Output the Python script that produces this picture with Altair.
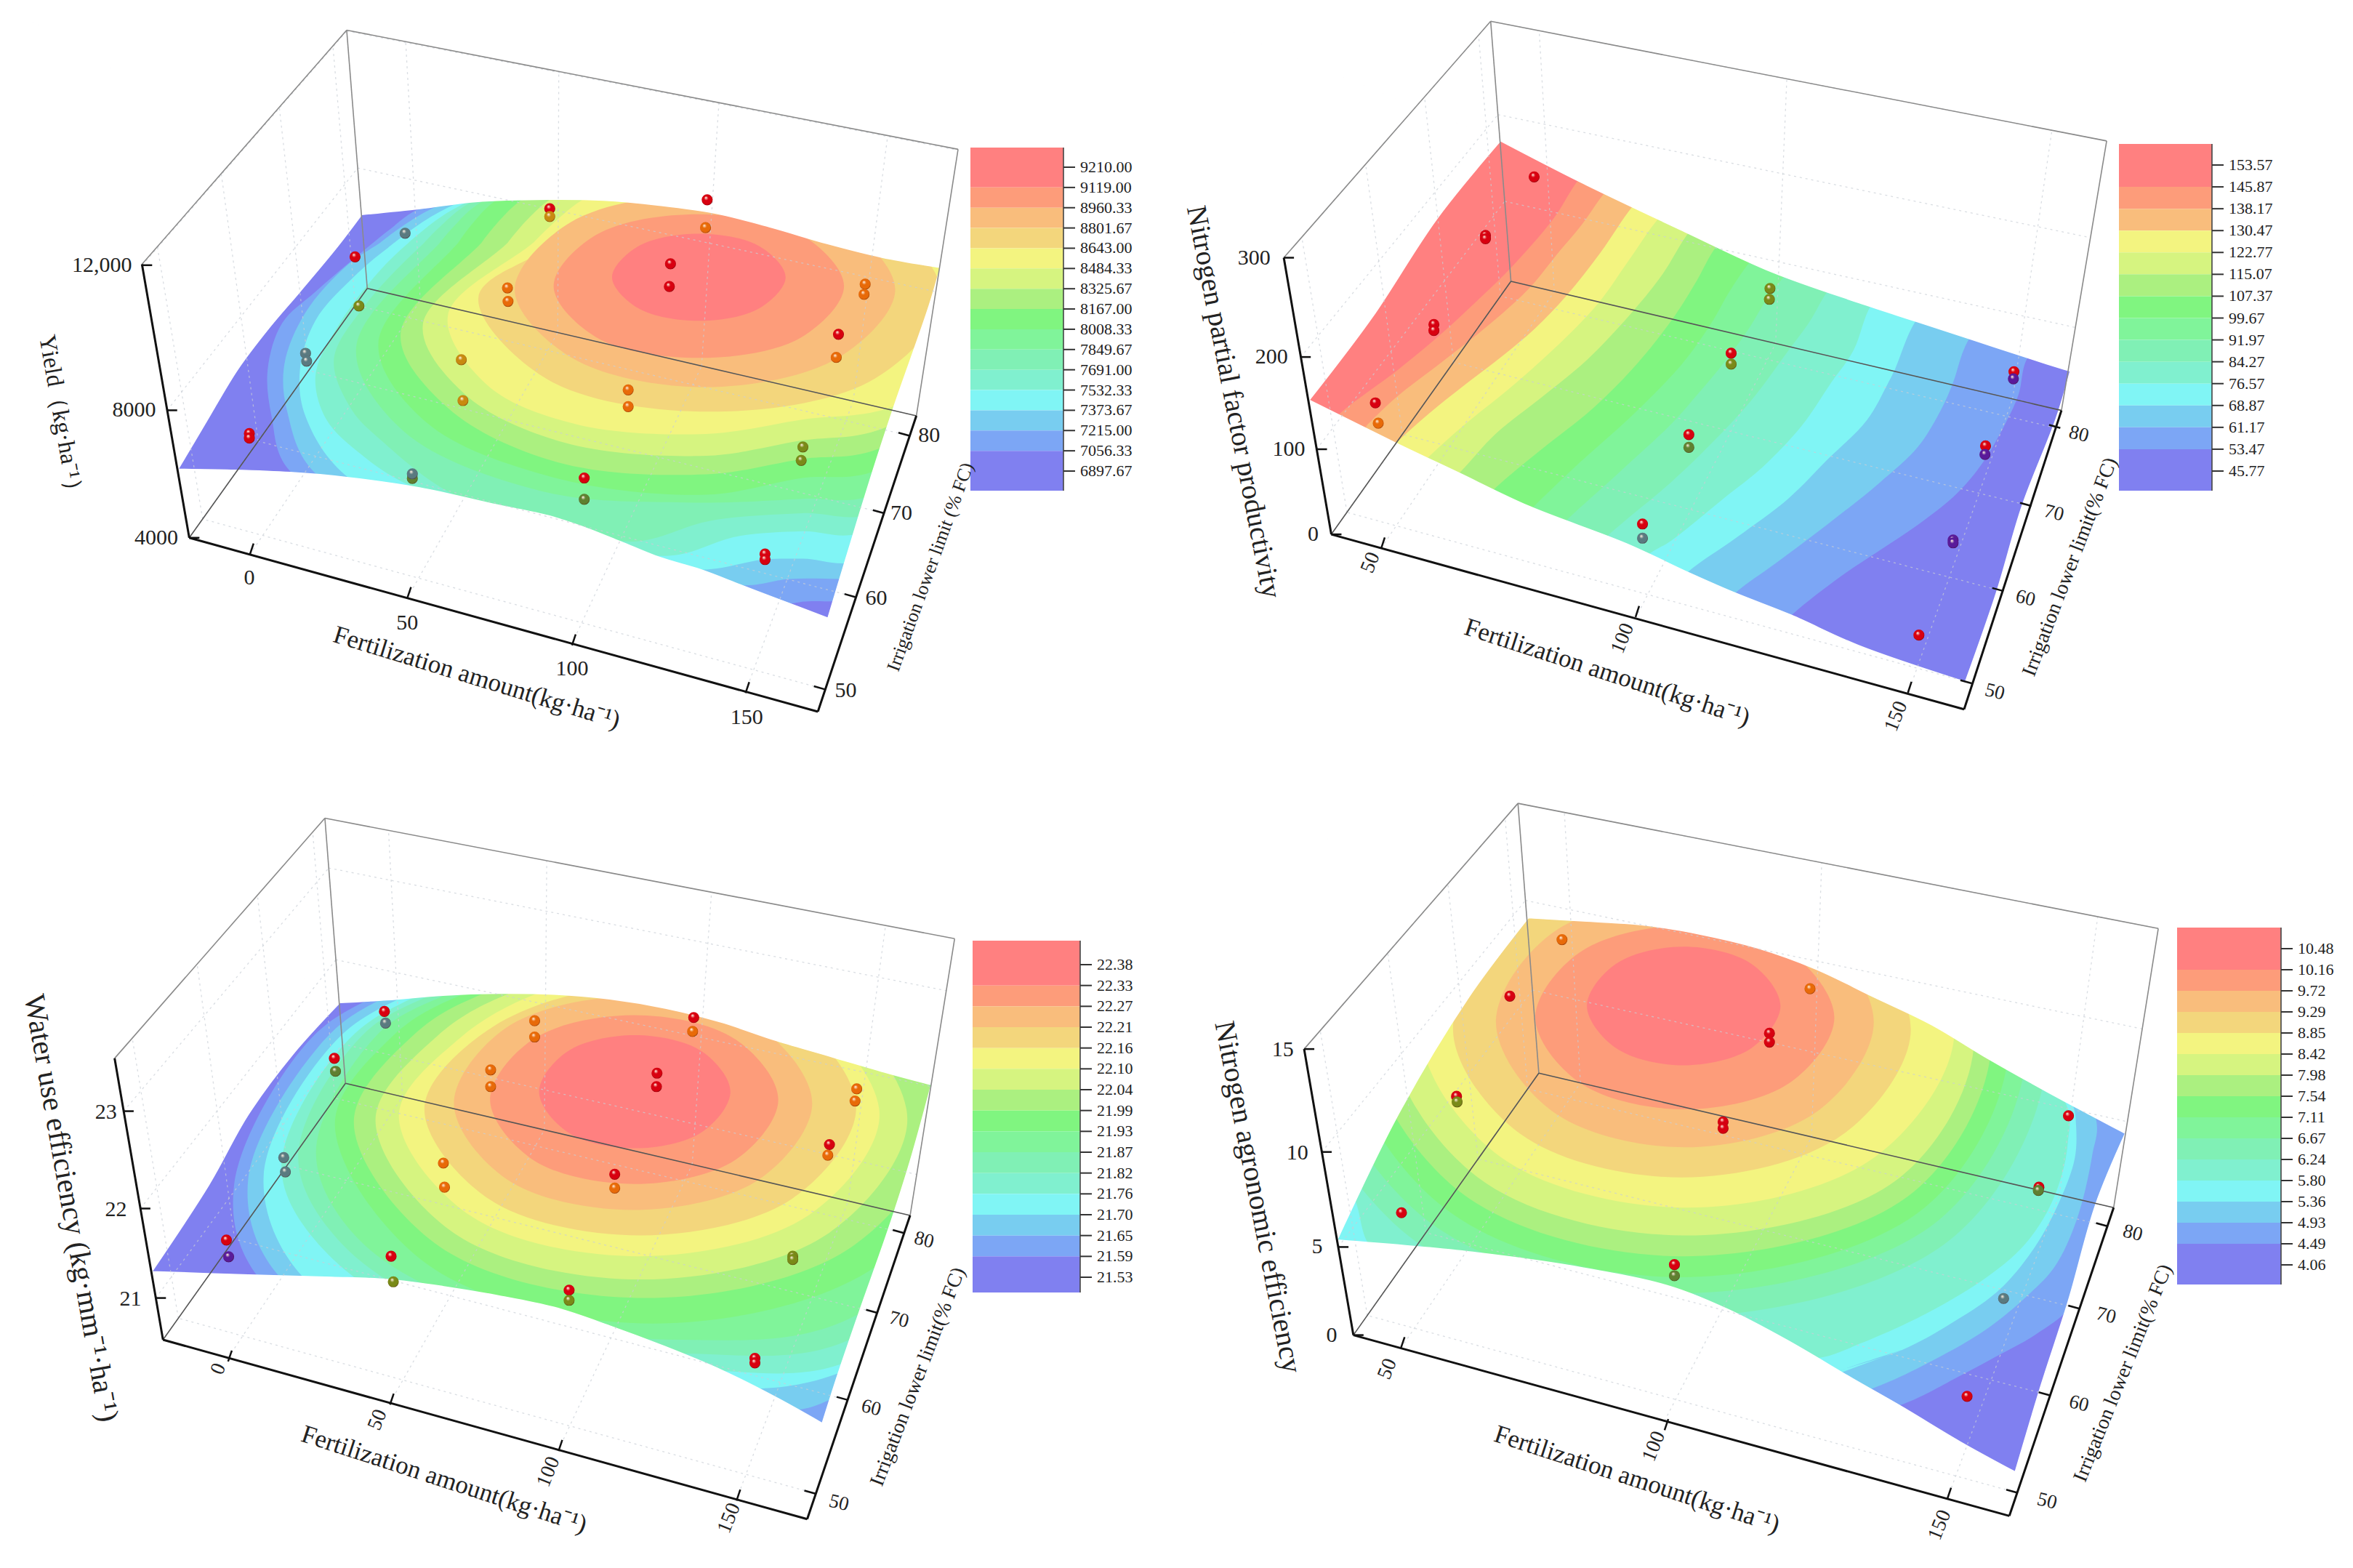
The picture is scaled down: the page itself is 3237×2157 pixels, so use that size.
import altair as alt
import pandas as pd

alt.data_transformers.disable_max_rows()

FONT = "Liberation Serif"
PALETTE = ["#FF8080", "#FD9C7A", "#F9BD7C", "#F3D67C", "#F3F480", "#D6F480", "#ABF080", "#80F580",
           "#80F49A", "#80F0B5", "#80F0CF", "#80F5F5", "#78CDF0", "#7CA6F5", "#8080F0"]
SPHERES = {"r": "#d80010", "o": "#e86a08", "y": "#c88a10", "l": "#7a8a18", "g": "#5f8030", "s": "#5a7a80", "p": "#5a1a9a"}

# crop windows used when reading: origin x, origin y, width, height
P1_WIN = (180, 0, 1200, 1000)
P2_WIN = (1680, 0, 1250, 1020)
P3_WIN = (150, 1100, 1200, 1000)
P4_WIN = (1700, 1100, 1250, 1000)

# ---------- surface outlines ----------
P1_EDGE = [(85,1012),(136,909),(192,797),(248,708),(304,629),(370,534),(415,463),(520,450),(620,435),(750,430),(850,432),(950,443),(1050,460),(1150,490),(1250,525),(1350,555),(1455,577),
           (1435,659),(1370,883),(1330,1030),(1286,1202),(1253,1333),(1165,1293),(1099,1263),(1025,1229),(950,1202),(880,1168),(810,1135),(750,1112),(659,1089),(519,1052),(391,1030),(286,1019),(180,1014)]
P2_EDGE = [(152,846),(260,672),(372,463),(482,298),(620,385),(800,490),(950,575),(1100,640),(1200,680),(1300,720),(1400,760),(1465,785),
           (1441,884),(1382,1070),(1338,1252),(1284,1442),(1100,1365),(984,1301),(887,1254),(805,1210),(700,1150),(530,1070),(410,1000),(300,936)]
P3_EDGE = [(77,1018),(180,830),(250,680),(330,550),(415,438),(500,432),(600,422),(700,418),(800,420),(900,430),(1000,450),(1100,480),(1200,520),(1300,555),(1400,590),(1478,615),
           (1440,780),(1400,930),(1350,1100),(1310,1240),(1282,1345),(1200,1290),(1100,1230),(1000,1180),(900,1135),(800,1095),(700,1070),(600,1050),(500,1035),(400,1030),(250,1025)]
P4_EDGE = [(175,950),(280,680),(400,430),(505,255),(600,262),(700,270),(800,290),(900,320),(1000,365),(1100,425),(1200,485),(1300,560),(1400,630),(1535,720),
           (1484,873),(1437,1080),(1390,1262),(1345,1450),(1250,1385),(1150,1310),(1066,1250),(950,1165),(850,1100),(750,1050),(600,1010),(400,975)]
P1_CORNERS = [(85,1012),(415,463),(1455,577),(1253,1333)]
P2_CORNERS = [(152,846),(482,298),(1465,785),(1284,1442)]
P3_CORNERS = [(77,1018),(415,438),(1478,615),(1282,1345)]
P4_CORNERS = [(175,950),(505,255),(1535,720),(1345,1450)]

# ---------- contour loops, outermost band boundary last (index = band above that boundary) ----------
FAR = [(1700,700),(1500,350),(1100,250)]
P1_LOOPS = [
 [(865,598),(911,532),(1021,504),(1131,532),(1177,598),(1131,664),(1021,692),(911,664)],
 [(760,617),(836,507),(1021,462),(1206,507),(1282,617),(1206,727),(1021,772),(836,727)],
 [(690,625),(790,480),(1032,420),(1274,480),(1374,625),(1274,770),(1032,835),(790,770)],
 [(625,640),(784,523),(1042,390),(1337,463),(1459,640),(1337,817),(1042,888),(747,817)],
 [(820,425),(724,523),(570,680),(640,830),(800,915),(1034,936),(1207,905),(1370,877),(1600,700),(1500,400),(1100,300)],
 [(760,425),(678,523),(525,700),(600,850),(780,955),(1034,983),(1207,950),(1350,925),(1650,700),(1500,350),(1100,280)],
 [(710,425),(631,523),(485,720),(570,880),(770,998),(1034,1023),(1207,990),(1340,970)] + FAR,
 [(665,425),(589,523),(445,740),(530,910),(760,1030),(1034,1067),(1207,1031),(1340,1015)] + FAR,
 [(640,428),(556,523),(405,750),(490,930),(740,1060),(997,1084),(1207,1076),(1340,1065)] + FAR,
 [(620,430),(528,523),(420,660),(365,775),(395,880),(450,950),(579,1066),(740,1125),(903,1168),(1043,1123),(1207,1107),(1340,1105)] + FAR,
 [(598,440),(500,523),(435,601),(370,708),(332,809),(351,904),(416,982),(496,1044),(720,1140),(964,1199),(1090,1157),(1207,1146),(1320,1146)] + FAR,
 [(575,445),(463,534),(402,596),(332,691),(304,797),(314,898),(391,1030),(700,1180),(1025,1229),(1137,1207),(1207,1205),(1320,1205)] + FAR,
 [(547,447),(449,523),(388,573),(314,674),(276,786),(281,887),(332,1021),(700,1200),(1099,1263),(1183,1249),(1277,1249),(1350,1250)] + FAR,
 [(519,450),(472,489),(332,629),(272,697),(246,797),(253,898),(286,1016),(700,1250),(1165,1303),(1216,1297),(1263,1297),(1350,1297)] + FAR,
]
P2_CONTOURS = [
 [(204,875),(305,782),(376,710),(439,639),(497,570),(573,463),(618,378)],
 [(253,897),(305,837),(372,774),(439,710),(497,650),(538,601),(578,540),(623,474),(663,406)],
 [(305,933),(358,875),(417,817),(484,754),(542,694),(596,625),(654,535),(712,433)],
 [(358,966),(421,897),(493,826),(574,738),(650,642),(703,551),(755,461)],
 [(412,999),(475,916),(551,842),(632,760),(712,656),(762,579),(809,488)],
 [(473,1032),(551,952),(641,864),(717,770),(782,669),(820,595),(855,520)],
 [(538,1073),(618,979),(708,880),(795,770),(845,685),(878,615),(915,550)],
 [(596,1100),(685,1001),(778,895),(822,834),(867,768),(912,692),(943,630),(975,580)],
 [(665,1135),(778,1018),(845,939),(912,851),(979,741),(1015,681),(1050,610)],
 [(735,1175),(778,1142),(867,1054),(934,988),(1002,900),(1051,812),(1091,741),(1123,642)],
 [(805,1210),(890,1136),(979,1054),(1046,972),(1114,889),(1150,812),(1163,780),(1199,678)],
 [(887,1254),(957,1191),(1046,1109),(1136,1021),(1203,944),(1244,862),(1262,812),(1291,716)],
 [(984,1301),(1069,1219),(1136,1164),(1203,1109),(1270,1043),(1315,977),(1356,889),(1376,834),(1391,758)],
]
P2_LOOPS = [[(c[0][0]-60,c[0][1]+75)] + c + [(c[-1][0]+60,c[-1][1]-75),(200,-100),(-50,1450)] for c in P2_CONTOURS]
FAR3 = [(1700,700),(1500,350),(1000,250)]
P3_LOOPS = [
 [(773,630),(823,544),(945,508),(1067,544),(1117,630),(1067,716),(945,752),(823,716)],
 [(685,647),(761,518),(944,465),(1127,518),(1203,647),(1127,776),(944,829),(761,776)],
 [(620,655),(714,492),(942,425),(1170,492),(1264,655),(1170,818),(942,885),(714,818)],
 [(567,665),(690,490),(955,400),(1229,470),(1343,665),(1229,860),(955,940),(681,860)],
 [(521,680),(630,515),(770,418),(953,370),(1258,464),(1385,680),(1258,896),(953,985),(648,896)],
 [(479,690),(590,510),(720,418),(957,350),(1295,446),(1435,690),(1295,934),(957,1035),(619,934)],
 [(440,695),(550,505),(680,415),(965,330),(1336,426),(1490,695),(1336,964),(965,1075),(594,964)],
 [(406,700),(510,510),(640,418),(978,310),(1382,396),(1550,700),(1382,1004),(978,1130),(574,1004)],
 [(610,418),(480,510),(372,760),(450,950),(700,1110),(1030,1165),(1330,1120)] + FAR3,
 [(585,418),(450,515),(340,770),(420,960),(680,1140),(1040,1195),(1340,1160)] + FAR3,
 [(560,420),(425,525),(310,790),(385,970),(640,1160),(1060,1230),(1350,1200)] + FAR3,
 [(530,425),(400,530),(278,810),(345,1025),(600,1180),(1000,1255),(1140,1272),(1305,1240),(1650,1000),(1700,500),(1000,250)],
 [(490,430),(375,535),(250,820),(300,1020),(600,1220),(1100,1320),(1225,1318),(1285,1300),(1650,1000),(1700,500),(1000,250)],
 [(460,435),(345,540),(225,830),(262,1020),(600,1300),(1300,1420),(1650,1000),(1700,500),(1000,250)],
]
P4_OUT_UP = [(1300,300),(800,-150),(200,100),(50,700),(150,1050)]
P4_LOOPS = [
 [(606,445),(655,355),(773,317),(891,355),(940,445),(891,535),(773,573),(655,535)],
 [(517,470),(593,330),(775,272),(957,330),(1033,470),(957,610),(775,668),(593,610)],
 [(449,480),(545,289),(775,210),(1005,289),(1101,480),(1005,671),(775,750),(545,671)],
 [(375,495),(491,269),(770,175),(1049,269),(1165,495),(1049,721),(770,815),(491,721)],
 [(320,500),(455,231),(780,120),(1105,231),(1240,500),(1105,769),(780,880),(455,769)],
 [(270,510),(417,206),(772,80),(1127,206),(1274,510),(1147,814),(772,940),(417,814)],
 [(230,510),(387,174),(767,35),(1147,174),(1304,510),(1170,846),(767,985),(387,846)],
 [(190,515),(358,151),(762,0),(1166,151),(1334,515),(1190,879),(762,1030),(358,879)],
 [(150,520),(328,135),(757,-25),(1186,135),(1364,520),(1215,905),(757,1065),(328,905)],
 [(110,525),(299,108),(755,-65),(1211,108),(1400,525),(1240,942),(755,1115),(299,942)],
 [(1000,1205),(1066,1179),(1191,1109),(1296,1030),(1359,963),(1400,890),(1425,812),(1436,739),(1434,660),(1200,300),(800,-100),(300,100),(120,600),(205,860),(240,975),(500,1090),(800,1170)],
 [(1035,1235),(1150,1187),(1233,1131),(1317,1058),(1380,963),(1421,868),(1448,773),(1450,700),(1445,660)] + P4_OUT_UP + [(500,1250),(800,1350)],
 [(1097,1271),(1204,1209),(1296,1142),(1367,1069),(1413,1008),(1451,907),(1478,767),(1484,686)] + P4_OUT_UP + [(500,1270),(800,1380)],
 [(1145,1307),(1233,1254),(1317,1198),(1380,1154),(1440,1095),(1495,960),(1530,850),(1545,722)] + P4_OUT_UP + [(500,1300),(850,1400)],
]

# ---------- observations ----------
P1_PTS = [(213,935,"r"),(213,945,"r"),(403,554,"r"),(410,660,"l"),(493,503,"s"),(314,762,"s"),(316,779,"s"),(506,1022,"s"),(506,1032,"g"),
          (753,450,"r"),(753,467,"y"),(677,621,"o"),(678,650,"o"),(594,776,"y"),(597,864,"y"),(815,1031,"r"),(815,1077,"g"),(1036,431,"r"),(1033,491,"o"),
          (970,569,"r"),(968,618,"r"),(894,841,"o"),(894,877,"o"),(1140,1195,"r"),(1140,1207,"r"),(1320,613,"o"),(1318,635,"o"),(1272,721,"r"),(1268,771,"o"),(1208,964,"l"),(1205,993,"l")]
P2_PTS = [(540,374,"r"),(456,498,"r"),(456,505,"r"),(367,686,"r"),(367,699,"r"),(266,852,"r"),(271,895,"o"),(947,610,"l"),(946,633,"l"),(880,747,"r"),(880,770,"l"),
          (807,919,"r"),(807,946,"g"),(727,1108,"r"),(727,1138,"s"),(1368,786,"r"),(1367,801,"p"),(1319,943,"r"),(1318,961,"p"),(1263,1142,"p"),(1263,1148,"p"),(1204,1343,"r")]
P3_PTS = [(495,457,"r"),(497,482,"s"),(405,558,"r"),(407,586,"g"),(314,772,"s"),(317,803,"s"),(211,950,"r"),(215,986,"p"),(507,985,"r"),(511,1040,"l"),
          (765,477,"o"),(765,512,"o"),(686,583,"o"),(686,619,"o"),(601,784,"o"),(603,836,"o"),(827,1058,"r"),(827,1080,"l"),(1051,470,"r"),(1049,500,"o"),
          (985,590,"r"),(984,619,"r"),(909,808,"r"),(909,838,"o"),(1161,1205,"r"),(1161,1215,"r"),(1344,624,"o"),(1341,650,"o"),(1295,744,"r"),(1292,767,"o"),(1229,985,"l"),(1229,992,"l")]
P4_PTS = [(563,302,"o"),(473,424,"r"),(381,640,"r"),(382,652,"l"),(286,891,"r"),(991,408,"o"),(921,504,"r"),(921,523,"r"),(841,695,"r"),(841,709,"r"),
          (757,1003,"r"),(757,1027,"g"),(1437,682,"r"),(1386,836,"r"),(1385,843,"g"),(1325,1076,"s"),(1262,1287,"r")]

# ---------- box corners: back-top, right-top, left-top, floor-back, floor-left, front, floor-right ----------
P1_BOX = dict(tb=(388,65), tr=(1487,322), lt=(20,570), bl=(425,622), fl=(105,1160), fr=(1235,1535), br=(1412,897))
P2_BOX = dict(tb=(465,45), tr=(1528,298), lt=(108,545), bl=(500,595), fl=(190,1130), fr=(1282,1500), br=(1450,868))
P3_BOX = dict(tb=(388,40), tr=(1520,300), lt=(10,558), bl=(425,612), fl=(97,1165), fr=(1255,1552), br=(1440,897))
P4_BOX = dict(tb=(487,8), tr=(1592,278), lt=(118,538), bl=(523,590), fl=(203,1155), fr=(1335,1545), br=(1515,880))

# ---------- axes: (tick point on axis, label, label x, label y) ----------
P1_ZT = [((20,572),"12,000",2,572),((65,885),"8000",45,885),((105,1160),"4000",85,1160)]
P2_ZT = [((108,545),"300",85,545),((137,755),"200",115,755),((165,950),"100",145,950),((190,1130),"0",168,1130)]
P3_ZT = [((26,672),"23",14,674),((56,882),"22",32,885),((84,1075),"21",58,1077)]
P4_ZT = [((118,538),"15",100,540),((148,760),"10",125,762),((177,965),"5",150,965),((203,1155),"0",175,1155)]
P1_XT = [((214,1196),"0",213,1247),((497,1290),"50",497,1343),((793,1392),"100",793,1443),((1105,1495),"150",1107,1548)]
P2_XT = [((276,1160),"50",258,1190),((715,1305),"100",693,1350),((1185,1465),"150",1165,1515)]
P3_XT = [((214,1212),"0",197,1228),((505,1305),"50",483,1338),((808,1405),"100",790,1450),((1128,1512),"150",1115,1550)]
P4_XT = [((285,1183),"50",262,1228),((740,1360),"100",722,1395),((1228,1508),"150",1215,1565)]
P1_YT = [((1400,940),"80",1435,940),((1354,1107),"70",1385,1107),((1303,1288),"60",1340,1290),((1248,1487),"50",1285,1490)]
P2_YT = [((1448,905),"80",1480,918),((1398,1070),"70",1437,1085),((1350,1250),"60",1388,1265),((1295,1445),"50",1335,1463)]
P3_YT = [((1429,935),"80",1465,950),((1381,1107),"70",1420,1122),((1328,1295),"60",1370,1312),((1270,1497),"50",1312,1517)]
P4_YT = [((1504,920),"80",1548,935),((1456,1098),"70",1502,1113),((1405,1285),"60",1455,1303),((1349,1495),"50",1400,1513)]

X_TITLE = "Fertilization amount(kg·ha⁻¹)"
Y_TITLE_A = "Irrigation lower limit (% FC)"
Y_TITLE_B = "Irrigation lower limit(% FC)"

# titles: text, x, y, angle, size in full-size coordinates of the figure
P1_TITLES = [("Yield（kg·ha⁻¹）",84,576,80,33),(X_TITLE,656,932,17,35),(Y_TITLE_A,1280,780,-70,26)]
P2_TITLES = [("Nitrogen partial factor productivity",1697,553,79,39),(X_TITLE,2211,925,18,35),(Y_TITLE_B,2848,780,-69,28)]
P3_TITLES = [("Water use efficiency (kg·mm⁻¹·ha⁻¹)",97,1662,80,41),(X_TITLE,611,2035,18,35),(Y_TITLE_B,1263,1894,-69,28)]
P4_TITLES = [("Nitrogen agronomic efficiency",1730,1647,79,40),(X_TITLE,2252,2035,18,35),(Y_TITLE_B,2921,1889,-68,28)]

# ---------- colour bars ----------
P1_LABELS = ["9210.00","9119.00","8960.33","8801.67","8643.00","8484.33","8325.67","8167.00","8008.33","7849.67","7691.00","7532.33","7373.67","7215.00","7056.33","6897.67"]
P2_LABELS = ["153.57","145.87","138.17","130.47","122.77","115.07","107.37","99.67","91.97","84.27","76.57","68.87","61.17","53.47","45.77"]
P3_LABELS = ["22.38","22.33","22.27","22.21","22.16","22.10","22.04","21.99","21.93","21.87","21.82","21.76","21.70","21.65","21.59","21.53"]
P4_LABELS = ["10.48","10.16","9.72","9.29","8.85","8.42","7.98","7.54","7.11","6.67","6.24","5.80","5.36","4.93","4.49","4.06"]
# bar left, bar right, bar top, bar bottom, first tick, last tick
P1_BAR = (1335,1463,203,675,230,648)
P2_BAR = (2915,3043,198,675,227,648)
P3_BAR = (1338,1486,1294,1778,1327,1757)
P4_BAR = (2995,3138,1276,1767,1305,1740)
P1_BANDS = list(range(15))
P2_BANDS = [0,1,2,4,5,6,7,8,9,10,11,12,13,14]
P3_BANDS = list(range(15))
P4_BANDS = list(range(15))

# canvas split: every panel owns one rectangle of the figure
P1_AREA = (0,0,1600,1060)
P2_AREA = (1600,0,3240,1060)
P3_AREA = (0,1060,1600,2160)
P4_AREA = (1600,1060,3240,2160)

PANELS = [
 (P1_WIN,P1_EDGE,P1_CORNERS,P1_LOOPS,P1_PTS,P1_BOX,P1_ZT,P1_XT,P1_YT,P1_TITLES,P1_LABELS,P1_BAR,P1_BANDS,P1_AREA,False),
 (P2_WIN,P2_EDGE,P2_CORNERS,P2_LOOPS,P2_PTS,P2_BOX,P2_ZT,P2_XT,P2_YT,P2_TITLES,P2_LABELS,P2_BAR,P2_BANDS,P2_AREA,True),
 (P3_WIN,P3_EDGE,P3_CORNERS,P3_LOOPS,P3_PTS,P3_BOX,P3_ZT,P3_XT,P3_YT,P3_TITLES,P3_LABELS,P3_BAR,P3_BANDS,P3_AREA,True),
 (P4_WIN,P4_EDGE,P4_CORNERS,P4_LOOPS,P4_PTS,P4_BOX,P4_ZT,P4_XT,P4_YT,P4_TITLES,P4_LABELS,P4_BAR,P4_BANDS,P4_AREA,True),
]

W, H = 3221, 2141
bands, mask, rules, grid, pts, texts_c, texts_r, texts_l, bars = [], [], [], [], [], [], [], [], []

def lerp(a, b, t):
    return (a[0]+(b[0]-a[0])*t, a[1]+(b[1]-a[1])*t)

def unit(a, c, n):
    dx, dy = c[0]-a[0], c[1]-a[1]
    d = (dx*dx+dy*dy)**0.5
    return (dx/d*n, dy/d*n)

for pi, (win, edge, corners, loops, points, box, zt, xt, yt, titles, labels, bar, idx, area, rotated) in enumerate(PANELS):
    ox, oy, ww, hh = win
    fx = ww/1568
    fy = hh/1568
    def R(p):
        return (ox+p[0]*fx-8, oy+p[1]*fy-8)

    # surface bands, lowest first
    ax0, ay0, ax1, ay1 = area
    gid = f"p{pi}_base"
    base = [(ax0,ay0),(ax1,ay0),(ax1,ay1),(ax0,ay1),(ax0,ay0)]
    for s, (x, y) in enumerate(base):
        bands.append(dict(g=gid, s=s, x=x, y=y, band=idx[-1]))
    for k in range(len(loops)-1, -1, -1):
        gid = f"p{pi}_{k:02d}"
        loop = loops[k]
        # wrap the open curve a little past its start so that it closes smoothly
        for s, p in enumerate([loop[-1]] + loop + [loop[0], loop[1]]):
            x, y = R(p)
            bands.append(dict(g=gid, s=s, x=x, y=y, band=idx[k]))

    # white sheet around the surface: corners doubled so the curve turns sharply there
    surf = [R(p) for p in edge]
    area2 = sum(surf[i][0]*surf[(i+1)%len(surf)][1]-surf[(i+1)%len(surf)][0]*surf[i][1] for i in range(len(surf)))
    seq = []
    for p in edge:
        seq.append(R(p))
        if p in corners:
            seq.append(R(p))
    if area2 > 0:
        seq = seq[::-1]
    cs = [R(p) for p in corners]
    start = min(cs, key=lambda q: (q[0]-ax0)**2+(q[1]-ay0)**2)
    i0 = seq.index(start)
    seq = seq[i0:] + seq[:i0]
    ring = []
    for c in [(ax0,ay0),(ax1,ay0),(ax1,ay1),(ax0,ay1),(ax0,ay0)]:
        ring += [c, c]
    ring += seq + [start, start, (ax0,ay0), (ax0,ay0)]
    for s, (x, y) in enumerate(ring):
        mask.append(dict(g=f"m{pi}", s=s, x=x, y=y))

    b = {k: R(v) for k, v in box.items()}
    def rule(a, c, w=1.5, col="#777777"):
        rules.append(dict(x=a[0], y=a[1], x2=c[0], y2=c[1], w=w, col=col))
    def dash(a, c):
        grid.append(dict(x=a[0], y=a[1], x2=c[0], y2=c[1]))

    # grid on walls and floor
    for tp, _, _, _ in xt:
        p = R(tp)
        t = (p[0]-b["fl"][0])/(b["fr"][0]-b["fl"][0])
        q = lerp(b["bl"], b["br"], t)
        dash(lerp(b["fl"], b["fr"], t), q)
        dash(q, lerp(b["tb"], b["tr"], t))
    for tp, _, _, _ in yt:
        p = R(tp)
        u = (p[1]-b["fr"][1])/(b["br"][1]-b["fr"][1])
        q = lerp(b["fl"], b["bl"], u)
        dash(lerp(b["fr"], b["br"], u), q)
        dash(q, lerp(b["lt"], b["tb"], u))
    for tp, _, _, _ in zt:
        p = R(tp)
        s = (p[1]-b["lt"][1])/(b["fl"][1]-b["lt"][1])
        q = lerp(b["tb"], b["bl"], s)
        dash(lerp(b["lt"], b["fl"], s), q)
        dash(q, lerp(b["tr"], b["br"], s))

    # box
    for a, c in [("tb","tr"),("tb","lt"),("tb","bl"),("tr","br")]:
        rule(b[a], b[c], 1.6, "#8a8a8a")
    for a, c in [("bl","fl"),("bl","br")]:
        rule(b[a], b[c], 1.6, "#555555")
    for a, c in [("lt","fl"),("fl","fr"),("fr","br")]:
        rule(b[a], b[c], 3, "#111111")

    # ticks and labels
    xdir = unit(b["fr"], b["br"], 16)
    ydir = unit(b["fr"], b["fl"], 16)
    for tp, lab, lx, ly in zt:
        p = R(tp)
        rule(p, (p[0]+14, p[1]), 2.5, "#111111")
        q = R((lx, ly))
        texts_r.append(dict(x=q[0], y=q[1], t=lab, a=0, s=30))
    for tp, lab, lx, ly in xt:
        p = R(tp)
        rule(p, (p[0]+xdir[0], p[1]+xdir[1]), 2.5, "#111111")
        q = R((lx, ly))
        texts_c.append(dict(x=q[0], y=q[1], t=lab, a=-68 if rotated else 0, s=28 if rotated else 30))
    for tp, lab, lx, ly in yt:
        p = R(tp)
        rule(p, (p[0]+ydir[0], p[1]+ydir[1]), 2.5, "#111111")
        q = R((lx, ly))
        texts_c.append(dict(x=q[0], y=q[1], t=lab, a=14 if rotated else 0, s=27 if rotated else 30))
    for t, x, y, a, sz in titles:
        texts_c.append(dict(x=x-8, y=y-8, t=t, a=a, s=sz))

    # spheres
    for vx, vy, c in points:
        x, y = R((vx, vy))
        pts.append(dict(x=x, y=y, c=c))

    # colour bar
    x0, x1, y0, y1, t0, t1 = bar
    step = (t1-t0)/(len(labels)-1)
    edges = [y0] + [t0+step*(i+1) for i in range(len(idx)-1)] + [y1]
    for i, bi in enumerate(idx):
        bars.append(dict(x=x0-8, x2=x1-8, y=edges[i]-8, y2=edges[i+1]-8, band=bi))
    rule((x1-8, y0-8), (x1-8, y1-8), 1.6, "#444444")
    for i, lab in enumerate(labels):
        ty = t0+step*i-8
        rule((x1-8, ty), (x1+8, ty), 2, "#333333")
        texts_l.append(dict(x=x1+15, y=ty, t=lab, a=0, s=22))

xs = alt.Scale(domain=[0, W], nice=False, zero=False)
ys = alt.Scale(domain=[0, H], nice=False, zero=False, reverse=True)
X = alt.X("x:Q", scale=xs, axis=None)
Y = alt.Y("y:Q", scale=ys, axis=None)
col = alt.Color("band:O", scale=alt.Scale(domain=list(range(15)), range=PALETTE), legend=None)

band_layer = alt.Chart(pd.DataFrame(bands)).mark_line(filled=True, interpolate="catmull-rom", strokeWidth=0).encode(
    x=X, y=Y, color=col, detail="g:N", order="s:Q")
mask_layer = alt.Chart(pd.DataFrame(mask)).mark_line(filled=True, interpolate="catmull-rom", stroke="white", strokeWidth=1.5).encode(
    x=X, y=Y, color=alt.value("white"), detail="g:N", order="s:Q")
grid_layer = alt.Chart(pd.DataFrame(grid)).mark_rule(strokeDash=[3, 5], strokeWidth=1.3, color="#c9ced6", opacity=0.7).encode(
    x=X, y=Y, x2="x2:Q", y2="y2:Q")
bar_layer = alt.Chart(pd.DataFrame(bars)).mark_rect(strokeWidth=0).encode(
    x=X, y=Y, x2="x2:Q", y2="y2:Q", color=col)
rule_layer = alt.Chart(pd.DataFrame(rules)).mark_rule().encode(
    x=X, y=Y, x2="x2:Q", y2="y2:Q",
    strokeWidth=alt.StrokeWidth("w:Q", scale=None), color=alt.Color("col:N", scale=None))

layers = [band_layer, mask_layer, grid_layer, bar_layer, rule_layer]
pdf = pd.DataFrame(pts)
for key, c in SPHERES.items():
    grad = alt.RadialGradient(gradient="radial", x1=0.38, y1=0.3, r1=0.02, x2=0.5, y2=0.5, r2=0.6,
                              stops=[alt.GradientStop(color="#fff0e0", offset=0), alt.GradientStop(color=c, offset=0.3),
                                     alt.GradientStop(color=c, offset=0.75), alt.GradientStop(color="#3a0505", offset=1)])
    layers.append(alt.Chart(pdf[pdf.c == key]).mark_circle(size=230, opacity=1, fill=grad).encode(x=X, y=Y))

for rows, al in [(texts_c, "center"), (texts_r, "right"), (texts_l, "left")]:
    layers.append(alt.Chart(pd.DataFrame(rows)).mark_text(align=al, baseline="middle", font=FONT, color="#222222").encode(
        x=X, y=Y, text="t:N", angle=alt.Angle("a2:Q", scale=None), size=alt.Size("s:Q", scale=None)
    ).transform_calculate(a2="(datum.a+360)%360"))

chart = alt.layer(*layers).properties(width=W, height=H, padding=0, autosize=alt.AutoSizeParams(type="none")).configure_view(stroke=None)
chart.save("out.html", embed_options={"renderer": "svg", "actions": False})
